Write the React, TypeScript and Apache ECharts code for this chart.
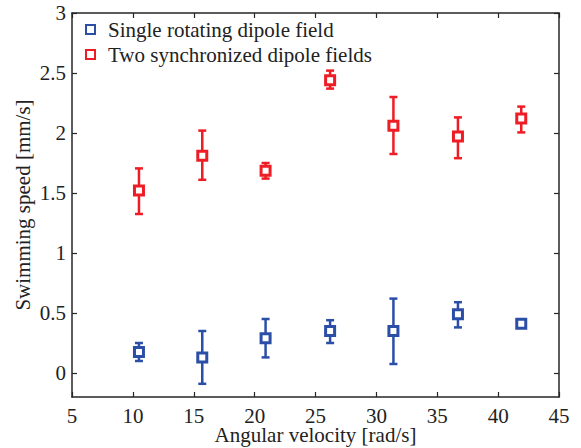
import React, { useEffect, useRef } from "react";
import * as echarts from "echarts";

const angularVelocity = [10.5, 15.7, 20.9, 26.2, 31.4, 36.7, 41.9];
const singleMean = [0.175, 0.13, 0.29, 0.35, 0.35, 0.49, 0.41];
const singleLow = [0.1, -0.09, 0.13, 0.25, 0.075, 0.38, 0.39];
const singleHigh = [0.25, 0.35, 0.45, 0.44, 0.62, 0.59, 0.43];
const twoMean = [1.52, 1.81, 1.685, 2.44, 2.06, 1.97, 2.12];
const twoLow = [1.325, 1.61, 1.62, 2.37, 1.825, 1.79, 2.005];
const twoHigh = [1.705, 2.02, 1.75, 2.52, 2.3, 2.13, 2.22];
const yTicks = [0, 0.5, 1, 1.5, 2, 2.5, 3];
const seriesNames = ["Single rotating dipole field", "Two synchronized dipole fields"];

const BLUE = "#2b4ea6";
const RED = "#ee1c25";
const FONT = "Liberation Serif";
const AXIS = "#262626";
const TEXT = "#222";

function errorSeries(color: string, low: number[], high: number[]) {
  return {
    type: "custom",
    z: 1,
    silent: true,
    data: angularVelocity.map((x, i) => [x, low[i], high[i]]),
    renderItem: (params: any, api: any) => {
      const x = api.value(0);
      const lo = api.coord([x, api.value(1)]);
      const hi = api.coord([x, api.value(2)]);
      const cap = 4;
      const style = { stroke: color, lineWidth: 2.5 };
      return {
        type: "group",
        children: [
          { type: "line", shape: { x1: lo[0], y1: lo[1], x2: hi[0], y2: hi[1] }, style },
          { type: "line", shape: { x1: lo[0] - cap, y1: lo[1], x2: lo[0] + cap, y2: lo[1] }, style },
          { type: "line", shape: { x1: hi[0] - cap, y1: hi[1], x2: hi[0] + cap, y2: hi[1] }, style },
        ],
      };
    },
  };
}

export default function App() {
  const ref = useRef<HTMLDivElement>(null);
  useEffect(() => {
    if (!ref.current) return;
    const chart = echarts.init(ref.current, null, { renderer: "svg" });
    const axisCommon = {
      axisLine: { show: true, onZero: false, lineStyle: { color: AXIS, width: 1.5 } },
      axisTick: { show: true, inside: true, length: 5, lineStyle: { color: AXIS, width: 1.2 } },
      splitLine: { show: false },
    };
    chart.setOption({
      animation: false,
      backgroundColor: "#fff",
      textStyle: { fontFamily: FONT },
      grid: { left: 72, right: 22, top: 13, bottom: 51, containLabel: false, outerBoundsMode: "none" },
      legend: {
        orient: "vertical",
        left: 80,
        top: 14,
        itemGap: 4,
        itemWidth: 9,
        itemHeight: 9,
        icon: "rect",
        data: seriesNames,
        textStyle: { fontFamily: FONT, fontSize: 21, color: TEXT, padding: [0, 0, 0, 8] },
      },
      xAxis: [
        {
          type: "value",
          min: 5,
          max: 45,
          interval: 5,
          position: "bottom",
          name: "Angular velocity [rad/s]",
          nameLocation: "middle",
          nameMoveOverlap: false,
          nameGap: 27,
          nameTextStyle: { fontFamily: FONT, fontSize: 21, color: TEXT },
          axisLabel: { fontFamily: FONT, fontSize: 21, color: TEXT, margin: 8 },
          ...axisCommon,
        },
        {
          type: "value",
          min: 5,
          max: 45,
          interval: 5,
          position: "top",
          axisLabel: { show: false },
          ...axisCommon,
        },
      ],
      yAxis: [
        {
          type: "value",
          min: -0.2,
          max: 3,
          position: "left",
          name: "Swimming speed [mm/s]",
          nameLocation: "middle",
          nameMoveOverlap: false,
          nameGap: 39,
          nameTextStyle: { fontFamily: FONT, fontSize: 21, color: TEXT },
          axisLabel: {
            fontFamily: FONT,
            fontSize: 21,
            color: TEXT,
            margin: 6,
            customValues: yTicks,
            formatter: (v: number) => String(v),
          },
          ...axisCommon,
          axisTick: { ...axisCommon.axisTick, customValues: yTicks },
        },
        {
          type: "value",
          min: -0.2,
          max: 3,
          position: "right",
          axisLabel: { show: false, customValues: yTicks },
          ...axisCommon,
          axisTick: { ...axisCommon.axisTick, customValues: yTicks },
        },
      ],
      series: [
        errorSeries(BLUE, singleLow, singleHigh),
        errorSeries(RED, twoLow, twoHigh),
        {
          name: seriesNames[0],
          type: "scatter",
          z: 3,
          symbol: "rect",
          symbolSize: 9,
          itemStyle: { color: "#fff", borderColor: BLUE, borderWidth: 3, opacity: 1 },
          data: angularVelocity.map((x, i) => [x, singleMean[i]]),
        },
        {
          name: seriesNames[1],
          type: "scatter",
          z: 3,
          symbol: "rect",
          symbolSize: 9,
          itemStyle: { color: "#fff", borderColor: RED, borderWidth: 3, opacity: 1 },
          data: angularVelocity.map((x, i) => [x, twoMean[i]]),
        },
      ],
    });
    return () => chart.dispose();
  }, []);
  return <div ref={ref} style={{ width: 581, height: 448, position: "absolute", left: 0, top: 0 }} />;
}
